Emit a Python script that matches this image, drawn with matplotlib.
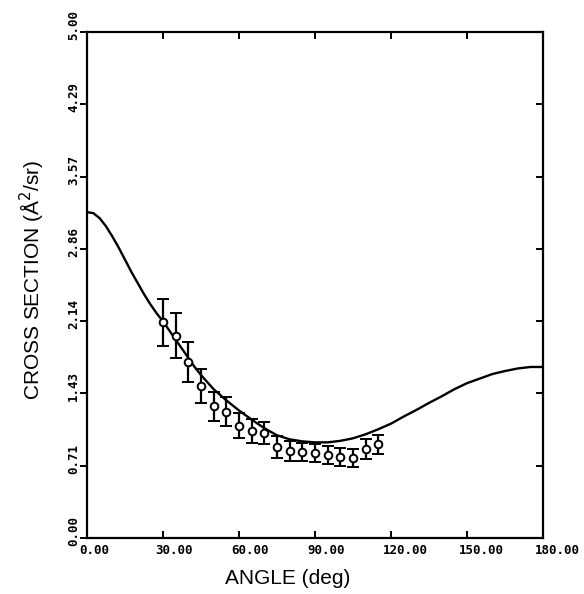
import matplotlib
matplotlib.use("Agg")
import matplotlib.pyplot as plt
import matplotlib.transforms as mtransforms
import matplotlib.lines as mlines

# Theory curve (angle in deg, cross section)
curve_angle = [0, 2.5, 5, 7.5, 10, 12.5, 15, 17.5, 20, 22.5, 25, 27.5, 30, 32.5, 35,
               37.5, 40, 42.5, 45, 47.5, 50, 55, 60, 65, 70, 75, 80, 85,
               90, 95, 100, 105, 110, 115, 120, 125, 130, 135, 140, 145, 150, 155,
               160, 165, 170, 175, 180]
curve_xs = [3.22, 3.21, 3.16, 3.08, 2.98, 2.87, 2.75, 2.63, 2.52, 2.41, 2.31, 2.22,
            2.14, 2.05, 1.96, 1.87, 1.78, 1.69, 1.61, 1.54, 1.47, 1.36,
            1.26, 1.17, 1.085, 1.015, 0.975, 0.955, 0.945, 0.945, 0.96, 0.985, 1.025,
            1.075, 1.13, 1.20, 1.265, 1.335, 1.40, 1.47, 1.53, 1.575, 1.62, 1.65,
            1.675, 1.69, 1.69]

# Measured data
data_angle = [30, 35, 40, 45, 50, 55, 60, 65, 70, 75, 80, 85, 90, 95, 100, 105, 110, 115]
data_xs = [2.13, 2.00, 1.74, 1.50, 1.30, 1.25, 1.11, 1.06, 1.035, 0.90, 0.86, 0.853,
           0.837, 0.82, 0.80, 0.79, 0.876, 0.926]
data_err = [0.235, 0.22, 0.195, 0.17, 0.145, 0.14, 0.125, 0.12, 0.11, 0.11, 0.10, 0.09,
            0.09, 0.09, 0.085, 0.085, 0.10, 0.095]

xticks = [0, 30, 60, 90, 120, 150, 180]
xtick_labels = ["0.00", "30.00", "60.00", "90.00", "120.00", "150.00", "180.00"]
yticks = [0.0, 5/7, 10/7, 15/7, 20/7, 25/7, 30/7, 5.0]
ytick_labels = ["0.00", "0.71", "1.43", "2.14", "2.86", "3.57", "4.29", "5.00"]

W, H = 584, 594
fig = plt.figure(figsize=(W/100, H/100), dpi=100)
ax = fig.add_axes([87/W, 1 - 538/H, (543-87)/W, (538-32)/H])

ax.plot(curve_angle, curve_xs, color="black", lw=1.7, solid_capstyle="round",
        solid_joinstyle="round")
ax.errorbar(data_angle, data_xs, yerr=data_err, fmt="o", mfc="white", mec="black",
            ms=5.5, mew=1.4, ecolor="black", elinewidth=1.6, capsize=4.5, capthick=1.6,
            color="black", zorder=3)

ax.set_xlim(0, 180)
ax.set_ylim(0, 5)
for s in ax.spines.values():
    s.set_linewidth(1.6)

ax.set_xticks(xticks)
ax.set_yticks(yticks)
ax.set_xticklabels([])
ax.set_yticklabels([])
ax.tick_params(axis="x", direction="in", length=5, width=1.4, top=True, bottom=True)
ax.tick_params(axis="y", which="both", left=True, right=True, width=1.4, length=5)
ax.tick_params(axis="y", direction="out")
# right ticks inward
for t in ax.yaxis.get_major_ticks():
    t.tick2line.set_marker(mlines.TICKLEFT)

tick_font = dict(family="DejaVu Sans Mono", weight="bold", size=9, color="black")

# x tick labels: left aligned, slightly left of tick
offx = mtransforms.ScaledTranslation(-8/100, -6/100, fig.dpi_scale_trans)
for v, lab in zip(xticks, xtick_labels):
    ax.text(v, 0, lab, transform=ax.get_xaxis_transform() + offx,
            ha="left", va="top", **tick_font)

# y tick labels: rotated, starting slightly below tick
offy = mtransforms.ScaledTranslation(-7/100, -8/100, fig.dpi_scale_trans)
for v, lab in zip(yticks, ytick_labels):
    ax.text(0, v, lab, transform=ax.get_yaxis_transform() + offy,
            rotation=90, rotation_mode="anchor", ha="left", va="bottom", **tick_font)

fig.text(288/W, 1 - 578/H, "ANGLE (deg)", ha="center", va="center",
         family="Liberation Sans", size=15)
fig.text(32/W, 1 - 280/H, "CROSS SECTION (Å$^{2}$/sr)", ha="center", va="center",
         rotation=90, family="Liberation Sans", size=15)

fig.savefig("out.png", dpi=100, facecolor="white")
